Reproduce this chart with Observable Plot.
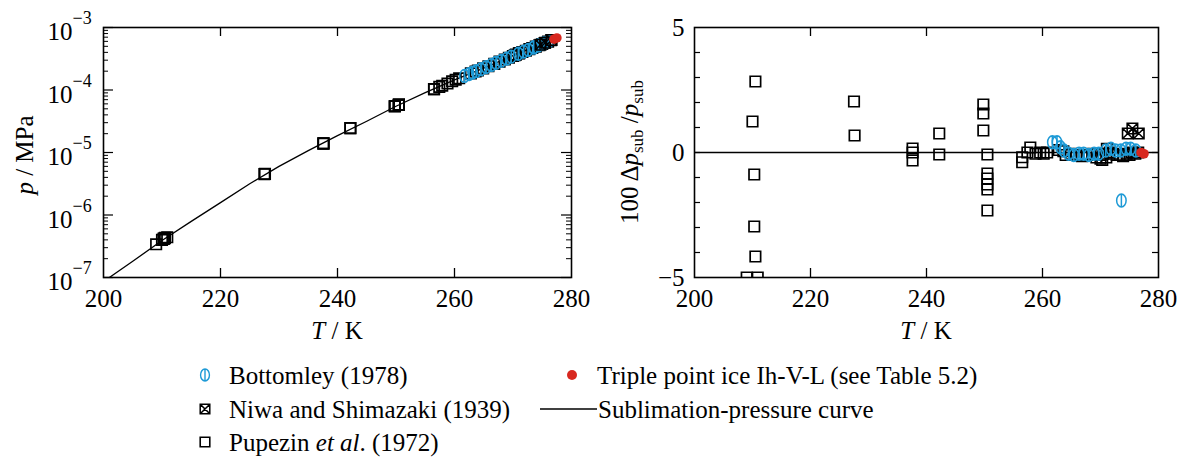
<!DOCTYPE html>
<html><head><meta charset="utf-8">
<script src="https://cdn.jsdelivr.net/npm/d3@7"></script>
<script src="https://cdn.jsdelivr.net/npm/@observablehq/plot@0.6"></script>
<style>
body{margin:0;background:#fff;font-family:"Liberation Serif",serif;}
#wrap{width:1186px;height:464px;position:relative;overflow:hidden;background:#fff;}
#row{display:flex;position:absolute;left:0;top:0;}
#legend{position:absolute;left:0;top:345px;}
</style></head><body>
<div id="wrap"><div id="row"></div><svg id="legend" width="1186" height="119"></svg></div>
<script>
// ---------------- data ----------------
// Sublimation-pressure curve
const curveT = [201, 205, 210, 215, 220, 225, 230, 235, 240, 245, 250, 255, 260, 265, 270, 275, 277.6];
const curveP = [1.0e-7, 1.82e-7, 3.9e-7, 7.9e-7, 1.58e-6, 3.16e-6, 6.0e-6, 1.07e-5, 1.86e-5, 3.16e-5, 5.5e-5, 9.1e-5, 1.45e-4, 2.24e-4, 3.55e-4, 5.5e-4, 6.9e-4];

// Pupezin et al. (1972)
const pupT = [209.0, 210.9, 210.5, 210.0, 210.3, 210.3, 210.5, 227.5, 227.6, 237.6, 237.6, 237.6, 242.2, 242.2, 249.8, 249.8, 249.8, 250.5, 250.5, 250.5, 250.5, 250.5, 250.5, 256.5, 256.5, 257.4, 257.9, 258.8, 259.6, 260.2, 260.8, 262.8, 263.6, 264.0, 264.9, 265.8, 266.8, 267.7, 268.6, 269.3, 270.0, 270.0, 270.3, 270.5, 271.0, 271.1, 271.6, 272.2, 272.8, 273.3, 273.9, 274.5, 275.0, 275.4, 276.0, 276.5];
const pupP = [3.4e-7, 4.4e-7, 4.25e-7, 4.0e-7, 4.2e-7, 4.15e-7, 4.3e-7, 4.5e-6, 4.55e-6, 1.4e-5, 1.4e-5, 1.39e-5, 2.45e-5, 2.45e-5, 5.5e-5, 5.5e-5, 5.5e-5, 5.8e-5, 5.8e-5, 5.8e-5, 5.8e-5, 5.8e-5, 5.8e-5, 1.03e-4, 1.03e-4, 1.12e-4, 1.17e-4, 1.27e-4, 1.38e-4, 1.46e-4, 1.54e-4, 1.85e-4, 1.98e-4, 2.05e-4, 2.22e-4, 2.4e-4, 2.62e-4, 2.85e-4, 3.08e-4, 3.28e-4, 3.5e-4, 3.5e-4, 3.6e-4, 3.68e-4, 3.85e-4, 3.9e-4, 4.05e-4, 4.25e-4, 4.5e-4, 4.7e-4, 4.95e-4, 5.2e-4, 5.45e-4, 5.65e-4, 5.95e-4, 6.25e-4];
const pupDev = [-5.0, -5.0, 2.84, 1.24, -0.88, -2.96, -4.16, 2.04, 0.68, 0.16, 0.0, -0.32, 0.76, -0.08, 1.92, 1.56, 0.88, -0.08, -0.84, -1.04, -1.28, -1.48, -2.32, -0.19, -0.39, 0.0, 0.2, -0.05, 0.0, -0.05, 0.0, 0.1, 0.05, -0.1, -0.05, -0.1, -0.15, -0.1, -0.05, -0.2, -0.1, -0.25, -0.3, -0.05, -0.2, 0.15, 0.0, -0.05, -0.1, -0.1, -0.15, -0.05, -0.1, 0.0, -0.05, 0.0];

// Bottomley (1978)
const botT = [261.7, 262.5, 263.1, 263.7, 264.5, 265.4, 266.3, 267.1, 268.0, 268.9, 269.7, 270.9, 271.8, 272.6, 273.5, 273.6, 274.4, 275.2, 276.1];
const botP = [1.68e-4, 1.80e-4, 1.90e-4, 2.0e-4, 2.15e-4, 2.33e-4, 2.52e-4, 2.72e-4, 2.93e-4, 3.17e-4, 3.42e-4, 3.80e-4, 4.1e-4, 4.4e-4, 4.8e-4, 4.8e-4, 5.2e-4, 5.55e-4, 6.0e-4];
const botDev = [0.41, 0.41, 0.21, 0.08, -0.05, -0.1, -0.05, -0.05, -0.1, -0.05, -0.05, 0.08, 0.15, 0.08, 0.08, -1.92, 0.15, 0.15, 0.08];

// Niwa and Shimazaki (1939)
const niwaT = [274.7, 275.5, 276.6];
const niwaP = [5.3e-4, 5.7e-4, 6.3e-4];
const niwaDev = [0.76, 0.96, 0.76];

// Triple point ice Ih-V-L
const tripT = [277.0, 277.5];
const tripP = [6.5e-4, 6.8e-4];
const tripDev = [0.0, -0.05];

// ticks
const xTicks = [220, 240, 260];
const xLabels = [200, 220, 240, 260, 280];
const logMajor = [1e-7, 1e-6, 1e-5, 1e-4, 1e-3];
const logExp = ["−7", "−6", "−5", "−4", "−3"];
const logMinor = [];
for (const e of [-7, -6, -5, -4]) for (const m of [2,3,4,5,6,7,8,9]) logMinor.push(m * Math.pow(10, e));
const devTicks = [-4, -3, -2, -1, 0, 1, 2, 3, 4];
const devLabels = [-5, 0, 5];

// ---------------- tables ----------------
const zip = (T, P, D) => T.map((t, i) => ({T: t, p: P[i], dev: D[i]}));
const curve = curveT.map((t, i) => ({T: t, p: curveP[i]}));
const pup = zip(pupT, pupP, pupDev);
const bot = zip(botT, botP, botDev);
const niwa = zip(niwaT, niwaP, niwaDev);
const trip = zip(tripT, tripP, tripDev);

const BLUE = "#1e9ad6", RED = "#d8281f";
const FONT = "'Liberation Serif', 'Times New Roman', serif";

// custom symbols
const ellipseBar = {draw(ctx, size) {
  const r = Math.sqrt(size / Math.PI), rx = 0.74 * r, ry = r, k = 0.5523;
  ctx.moveTo(0, -ry);
  ctx.bezierCurveTo(k*rx, -ry, rx, -k*ry, rx, 0);
  ctx.bezierCurveTo(rx, k*ry, k*rx, ry, 0, ry);
  ctx.bezierCurveTo(-k*rx, ry, -rx, k*ry, -rx, 0);
  ctx.bezierCurveTo(-rx, -k*ry, -k*rx, -ry, 0, -ry);
  ctx.closePath();
  ctx.moveTo(0, -ry); ctx.lineTo(0, ry);
}};
const crossSquare = {draw(ctx, size) {
  const s = Math.sqrt(size) / 2;
  ctx.rect(-s, -s, 2*s, 2*s);
  ctx.moveTo(-s, -s); ctx.lineTo(s, s);
  ctx.moveTo(s, -s); ctx.lineTo(-s, s);
}};

const H = 345, MT = 27, MB = 68;
const FH = H - MT - MB;

function dataMarks(yKey) {
  return [
    Plot.dot(pup, {x: "T", y: yKey, symbol: "square", r: 5.9, stroke: "black", strokeWidth: 1.7, fill: "none", clip: true}),
    Plot.dot(bot, {x: "T", y: yKey, symbol: ellipseBar, r: 6.4, stroke: BLUE, strokeWidth: 1.5, fill: "none", clip: true}),
    Plot.dot(niwa, {x: "T", y: yKey, symbol: crossSquare, r: 5.9, stroke: "black", strokeWidth: 1.6, fill: "none", clip: true}),
    Plot.dot(trip, {x: "T", y: yKey, r: 4.8, fill: RED, stroke: "none", clip: true})
  ];
}

// ---------------- left panel ----------------
const W1 = 593, ML1 = 103, MR1 = 22, FW1 = W1 - ML1 - MR1;
const left = Plot.plot({
  width: W1, height: H, marginLeft: ML1, marginRight: MR1, marginTop: MT, marginBottom: MB,
  style: {fontFamily: FONT, fontSize: "25px", background: "white", color: "black", overflow: "visible"},
  x: {domain: [200, 280]},
  y: {type: "log", domain: [1e-7, 1e-3], axis: null},
  marks: [
    Plot.line(curve, {x: "T", y: "p", stroke: "black", strokeWidth: 1.3, clip: true}),
    ...dataMarks("p"),
    Plot.tickY(logMajor, {insetRight: FW1 - 10, strokeWidth: 1.2}),
    Plot.tickY(logMajor, {insetLeft: FW1 - 10, strokeWidth: 1.2}),
    Plot.tickY(logMinor, {insetRight: FW1 - 5, strokeWidth: 1}),
    Plot.tickY(logMinor, {insetLeft: FW1 - 5, strokeWidth: 1}),
    Plot.tickX(xTicks, {insetTop: FH - 9, strokeWidth: 1.3}),
    Plot.tickX(xTicks, {insetBottom: FH - 9, strokeWidth: 1.3}),
    Plot.frame({stroke: "black", strokeWidth: 1.6}),
    Plot.axisX({ticks: xLabels, tickSize: 0, tickPadding: 12, tickFormat: d => String(d), label: null, fontSize: 25}),
    Plot.text(logMajor, {y: d => d, text: () => "10", frameAnchor: "left", textAnchor: "end", dx: -31, dy: 4.5, fontSize: 25}),
    Plot.text(logMajor, {y: d => d, text: (d, i) => logExp[i], frameAnchor: "left", textAnchor: "start", dx: -31, dy: -9, fontSize: 18})
  ]
});

// ---------------- right panel ----------------
const W2 = 593, ML2 = 101, MR2 = 28, FW2 = W2 - ML2 - MR2;
const right = Plot.plot({
  width: W2, height: H, marginLeft: ML2, marginRight: MR2, marginTop: MT, marginBottom: MB,
  style: {fontFamily: FONT, fontSize: "25px", background: "white", color: "black", overflow: "visible"},
  x: {domain: [200, 280]},
  y: {domain: [-5, 5]},
  marks: [
    Plot.ruleY([0], {stroke: "black", strokeWidth: 1.3}),
    ...dataMarks("dev"),
    Plot.tickY(devTicks, {insetRight: FW2 - 6, strokeWidth: 1.2}),
    Plot.tickY(devTicks, {insetLeft: FW2 - 6, strokeWidth: 1.2}),
    Plot.tickX(xTicks, {insetTop: FH - 9, strokeWidth: 1.3}),
    Plot.tickX(xTicks, {insetBottom: FH - 9, strokeWidth: 1.3}),
    Plot.frame({stroke: "black", strokeWidth: 1.6}),
    Plot.axisX({ticks: xLabels, tickSize: 0, tickPadding: 12, tickFormat: d => String(d), label: null, fontSize: 25}),
    Plot.axisY({ticks: devLabels, tickSize: 0, tickPadding: 10, tickFormat: d => d < 0 ? "−" + (-d) : String(d), label: null, fontSize: 25})
  ]
});

const row = document.getElementById("row");
row.appendChild(left);
row.appendChild(right);

// ---------------- axis titles (mixed styles) ----------------
function xTitle(svg, cx) {
  const t = d3.select(svg).append("text").attr("x", cx).attr("y", 339)
    .attr("text-anchor", "middle").attr("font-size", 25).attr("fill", "black");
  t.append("tspan").attr("font-style", "italic").text("T");
  t.append("tspan").text(" / K");
}
xTitle(left, ML1 + FW1 / 2);
xTitle(right, ML2 + FW2 / 2);

{
  const t = d3.select(left).append("text").attr("transform", "translate(33,155) rotate(-90)")
    .attr("text-anchor", "middle").attr("font-size", 25).attr("fill", "black");
  t.append("tspan").attr("font-style", "italic").text("p");
  t.append("tspan").text(" / MPa");
}
{
  const t = d3.select(right).append("text").attr("transform", "translate(45,152) rotate(-90)")
    .attr("text-anchor", "middle").attr("font-size", 25).attr("fill", "black");
  t.append("tspan").text("100 Δ");
  t.append("tspan").attr("font-style", "italic").text("p");
  t.append("tspan").attr("font-size", 17).attr("dy", 5).text("sub");
  t.append("tspan").attr("dy", -5).text(" /");
  t.append("tspan").attr("font-style", "italic").text("p");
  t.append("tspan").attr("font-size", 17).attr("dy", 5).text("sub");
}

// ---------------- legend ----------------
const lg = d3.select("#legend").attr("font-family", FONT).attr("font-size", 25);
const rows = [30, 64, 97];
function legText(x, y, parts) {
  const t = lg.append("text").attr("x", x).attr("y", y).attr("dy", "0.35em").attr("fill", "black");
  for (const [s, it] of parts) { const sp = t.append("tspan").text(s); if (it) sp.attr("font-style", "italic"); }
}
lg.append("path").attr("transform", `translate(205,${rows[0]})`).attr("d", d3.symbol(ellipseBar, Math.PI * 36)())
  .attr("fill", "none").attr("stroke", BLUE).attr("stroke-width", 1.4);
legText(229, rows[0], [["Bottomley (1978)", false]]);
lg.append("path").attr("transform", `translate(205,${rows[1]})`).attr("d", d3.symbol(crossSquare, Math.PI * 5.4 * 5.4)())
  .attr("fill", "none").attr("stroke", "black").attr("stroke-width", 1.5);
legText(229, rows[1], [["Niwa and Shimazaki (1939)", false]]);
lg.append("path").attr("transform", `translate(205,${rows[2]})`).attr("d", d3.symbol(d3.symbolSquare, Math.PI * 5.4 * 5.4)())
  .attr("fill", "none").attr("stroke", "black").attr("stroke-width", 1.6);
legText(229, rows[2], [["Pupezin ", false], ["et al", true], [". (1972)", false]]);
lg.append("circle").attr("cx", 572).attr("cy", rows[0]).attr("r", 5).attr("fill", RED);
legText(597, rows[0], [["Triple point ice Ih-V-L (see Table 5.2)", false]]);
lg.append("line").attr("x1", 540).attr("x2", 597).attr("y1", rows[1]).attr("y2", rows[1]).attr("stroke", "black").attr("stroke-width", 1.3);
legText(598, rows[1], [["Sublimation-pressure curve", false]]);
</script>
</body></html>
